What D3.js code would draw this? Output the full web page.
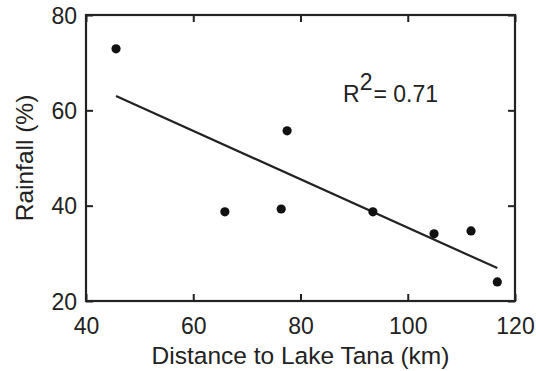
<!DOCTYPE html>
<html><head><meta charset="utf-8">
<script src="https://cdn.jsdelivr.net/npm/d3@7"></script>
<style>body{margin:0;background:#fff}svg{display:block}text{font-family:"Liberation Sans",Arial,sans-serif;fill:#222}</style>
</head><body>
<script>
const distance = [45.6, 65.9, 76.4, 77.5, 93.5, 104.9, 111.8, 116.7];
const rainfall = [72.9, 38.7, 39.3, 55.7, 38.7, 34.1, 34.7, 24.0];
const fitX = [45.6, 116.7];
const fitY = [63.0, 26.9];
const xTicks = [40, 60, 80, 100, 120];
const yTicks = [20, 40, 60, 80];

const W = 536, H = 371;
const m = {l: 86, r: 21, t: 15, b: 70};
const svg = d3.select("body").append("svg").attr("width", W).attr("height", H);
const x = d3.scaleLinear().domain([40, 120]).range([m.l, W - m.r]);
const y = d3.scaleLinear().domain([20, 80]).range([H - m.b, m.t]);
const ink = "#222";
const fs = 23;
const fsTitle = 24.5;

svg.append("rect").attr("x", x(40)).attr("y", y(80)).attr("width", x(120) - x(40)).attr("height", y(20) - y(80))
  .attr("fill", "none").attr("stroke", ink).attr("stroke-width", 2.2);

const tl = 7;
const gx = svg.append("g").attr("transform", `translate(0,${y(20)})`)
  .call(d3.axisBottom(x).tickValues(xTicks).tickSize(-tl).tickPadding(0).tickFormat(d3.format("d")));
const gxt = svg.append("g").attr("transform", `translate(0,${y(80)})`)
  .call(d3.axisTop(x).tickValues(xTicks).tickSize(-tl).tickFormat(""));
const gy = svg.append("g").attr("transform", `translate(${x(40)},0)`)
  .call(d3.axisLeft(y).tickValues(yTicks).tickSize(-tl).tickPadding(0).tickFormat(d3.format("d")));
const gyr = svg.append("g").attr("transform", `translate(${x(120)},0)`)
  .call(d3.axisRight(y).tickValues(yTicks).tickSize(-tl).tickFormat(""));
[gx, gxt, gy, gyr].forEach(g => {
  g.select(".domain").remove();
  g.attr("font-size", null).attr("font-family", null);
  g.selectAll("line").attr("stroke", ink).attr("stroke-width", 2);
});
gx.selectAll("text").attr("font-size", fs).attr("dy", null).attr("y", 33).attr("fill", ink);
gy.selectAll("text").attr("font-size", fs).attr("x", -9).attr("dy", "0.35em").attr("fill", ink);

svg.append("text").attr("x", (x(40) + x(120)) / 2).attr("y", 364).attr("text-anchor", "middle")
  .attr("font-size", fsTitle).text("Distance to Lake Tana (km)");
svg.append("text").attr("transform", `translate(33,${(y(20) + y(80)) / 2}) rotate(-90)`).attr("text-anchor", "middle")
  .attr("font-size", fsTitle).text("Rainfall (%)");

svg.append("line").attr("x1", x(fitX[0])).attr("y1", y(fitY[0])).attr("x2", x(fitX[1])).attr("y2", y(fitY[1]))
  .attr("stroke", ink).attr("stroke-width", 2.2);

svg.selectAll("circle.pt").data(distance).enter().append("circle")
  .attr("cx", d => x(d)).attr("cy", (d, i) => y(rainfall[i])).attr("r", 4.6).attr("fill", "#111");

const t = svg.append("text").attr("x", 343).attr("y", 102).attr("font-size", fs);
t.append("tspan").text("R");
t.append("tspan").attr("dy", -12).text("2");
t.append("tspan").attr("dy", 12).attr("dx", 1).text("= 0.71");
</script>
</body></html>
